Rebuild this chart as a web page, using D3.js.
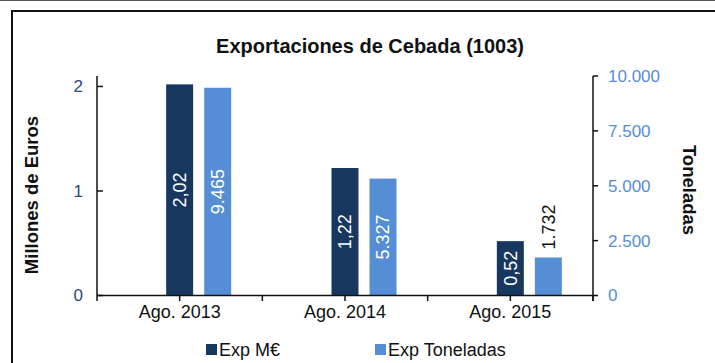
<!DOCTYPE html>
<html>
<head>
<meta charset="utf-8">
<script src="https://cdn.jsdelivr.net/npm/d3@7"></script>
<style>
  html, body { margin: 0; padding: 0; background: #fff; }
  svg { display: block; font-family: "Liberation Sans", Arial, sans-serif; }
</style>
</head>
<body>
<svg id="chart" width="715" height="363"></svg>
<script>
// Export figures for barley (tariff code 1003), August of each year
const categories = ["Ago. 2013", "Ago. 2014", "Ago. 2015"];
const seriesNames = ["Exp M€", "Exp Toneladas"];
const valuesEur = [2.02, 1.22, 0.52];        // millions of euros (left axis)
const valuesTon = [9465, 5327, 1732];        // tonnes (right axis)
const leftTicks = [0, 1, 2];
const rightTicks = [0, 2500, 5000, 7500, 10000];

const colors = { eur: "#17375E", ton: "#558ED5" };

const locale = d3.formatLocale({ decimal: ",", thousands: ".", grouping: [3], currency: ["", "€"] });
const fmtTon = locale.format(",d");
const fmtEur = locale.format(",.2f");

const svg = d3.select("#chart");

// outer frame and page rule
svg.append("line").attr("x1", 0).attr("x2", 715).attr("y1", 0.5).attr("y2", 0.5)
  .attr("stroke", "#555").attr("stroke-width", 1);
svg.append("path").attr("d", "M12,363V11H715").attr("fill", "none")
  .attr("stroke", "#111").attr("stroke-width", 2);

const plot = { left: 97, right: 593, top: 76, bottom: 295.5 };

const x = d3.scaleBand().domain(categories).range([plot.left, plot.right]).padding(0);
const bw = x.bandwidth();
// pair of bars inside each category: first centred on the category, second to its right
const inner = d3.scaleBand().domain(["eur", "ton"])
  .range([bw / 2 - 13.5 * bw / 165.3, bw / 2 + 51.5 * bw / 165.3])
  .paddingInner(0.29).paddingOuter(0);

const yL = d3.scaleLinear().domain([0, 2.1]).range([plot.bottom, plot.top]);
const yR = d3.scaleLinear().domain([0, 10000]).range([plot.bottom, plot.top]);

// title
svg.append("text").attr("x", 370).attr("y", 53).attr("text-anchor", "middle")
  .attr("font-size", 20).attr("font-weight", "bold").attr("fill", "#111")
  .text("Exportaciones de Cebada (1003)");

// bars
const rows = categories.map((c, i) => ({ cat: c, eur: valuesEur[i], ton: valuesTon[i] }));

const g = svg.append("g");
g.selectAll("rect.eur").data(rows).join("rect").attr("class", "eur")
  .attr("x", d => x(d.cat) + inner("eur")).attr("width", inner.bandwidth())
  .attr("y", d => yL(d.eur)).attr("height", d => yL(0) - yL(d.eur))
  .attr("fill", colors.eur);
g.selectAll("rect.ton").data(rows).join("rect").attr("class", "ton")
  .attr("x", d => x(d.cat) + inner("ton")).attr("width", inner.bandwidth())
  .attr("y", d => yR(d.ton)).attr("height", d => yR(0) - yR(d.ton))
  .attr("fill", colors.ton);

// value labels, rotated; placed above the bar when it is too short to hold them
const labelSize = 18;
function addLabels(key, scale, fmt) {
  rows.forEach(d => {
    const cx = x(d.cat) + inner(key) + inner.bandwidth() / 2;
    const txt = fmt(d[key]);
    const len = txt.length * labelSize * 0.52;
    const h = scale(0) - scale(d[key]);
    let cy, fill;
    if (h >= len + 6) { cy = (scale(0) + scale(d[key])) / 2; fill = "#fff"; }
    else { cy = scale(d[key]) - 7 - len / 2; fill = "#111"; }
    svg.append("text")
      .attr("transform", `translate(${cx},${cy}) rotate(-90)`)
      .attr("text-anchor", "middle").attr("dy", "0.35em")
      .attr("font-size", labelSize).attr("fill", fill).text(txt);
  });
}
addLabels("eur", yL, fmtEur);
addLabels("ton", yR, fmtTon);

// left axis
const axL = svg.append("g").attr("transform", `translate(${plot.left},0)`);
axL.append("line").attr("x1", 0).attr("x2", 0).attr("y1", plot.top).attr("y2", plot.bottom + 5.5)
  .attr("stroke", "#111").attr("stroke-width", 1.5);
axL.selectAll("line.tk").data(leftTicks).join("line").attr("class", "tk")
  .attr("x1", 0).attr("x2", 6).attr("y1", d => yL(d)).attr("y2", d => yL(d))
  .attr("stroke", "#111").attr("stroke-width", 1.5);
axL.selectAll("text").data(leftTicks).join("text")
  .attr("x", -14).attr("y", d => yL(d)).attr("dy", "0.35em").attr("text-anchor", "end")
  .attr("font-size", 17).attr("fill", "#2A4A78").text(d => d);

// right axis
const axR = svg.append("g").attr("transform", `translate(${plot.right},0)`);
axR.append("line").attr("x1", 0).attr("x2", 0).attr("y1", plot.top).attr("y2", plot.bottom + 5.5)
  .attr("stroke", "#111").attr("stroke-width", 1.5);
axR.selectAll("line.tk").data(rightTicks).join("line").attr("class", "tk")
  .attr("x1", 0).attr("x2", 5).attr("y1", d => yR(d)).attr("y2", d => yR(d))
  .attr("stroke", "#111").attr("stroke-width", 1.5);
axR.selectAll("text").data(rightTicks).join("text")
  .attr("x", 15).attr("y", d => yR(d)).attr("dy", "0.35em").attr("text-anchor", "start")
  .attr("font-size", 17).attr("fill", colors.ton).text(d => fmtTon(d));

// category axis: ticks at band edges and centres
const axB = svg.append("g");
axB.append("line").attr("x1", plot.left).attr("x2", plot.right)
  .attr("y1", plot.bottom).attr("y2", plot.bottom).attr("stroke", "#111").attr("stroke-width", 1.5);
const tickPos = [];
categories.forEach(c => { tickPos.push(x(c) + bw / 2); tickPos.push(x(c) + bw); });
axB.selectAll("line.tk").data(tickPos).join("line").attr("class", "tk")
  .attr("x1", d => d).attr("x2", d => d).attr("y1", plot.bottom).attr("y2", plot.bottom + 5.5)
  .attr("stroke", "#111").attr("stroke-width", 1.5);
axB.selectAll("text").data(categories).join("text")
  .attr("x", c => x(c) + bw / 2).attr("y", 318).attr("text-anchor", "middle")
  .attr("font-size", 18).attr("fill", "#111").text(c => c);

// axis titles
svg.append("text").attr("transform", "translate(38,195) rotate(-90)")
  .attr("text-anchor", "middle").attr("font-size", 18.5).attr("font-weight", "bold")
  .attr("fill", "#111").text("Millones de Euros");
svg.append("text").attr("transform", "translate(683,190) rotate(90)")
  .attr("text-anchor", "middle").attr("font-size", 18.5).attr("font-weight", "bold")
  .attr("fill", "#111").text("Toneladas");

// legend
const legendX = [206, 375];
const lg = svg.append("g");
seriesNames.forEach((name, i) => {
  lg.append("rect").attr("x", legendX[i]).attr("y", 344).attr("width", 11).attr("height", 11)
    .attr("fill", i === 0 ? colors.eur : colors.ton);
  lg.append("text").attr("x", legendX[i] + 13).attr("y", 356)
    .attr("font-size", 18).attr("fill", "#111").text(name);
});
</script>
</body>
</html>
